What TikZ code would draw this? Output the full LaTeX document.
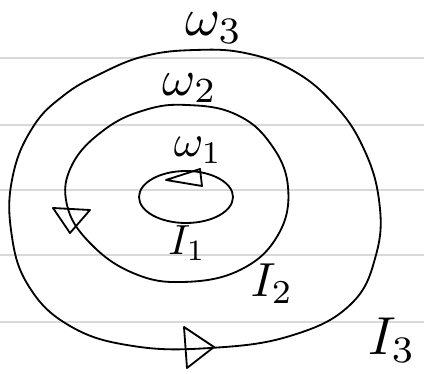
\documentclass[tikz,border=0pt]{standalone}
\usepackage{tikz}

\begin{document}
\begin{tikzpicture}[
    x=0.025cm, y=-0.025cm,
    rule/.style={draw=gray!30, line width=0.8pt},
    curve/.style={draw, line width=1.3pt, smooth cycle, tension=0.7},
    tip/.style={draw, line width=1.3pt, line join=round},
    lbl/.style={inner sep=0pt},
]
    \useasboundingbox (0,0) rectangle (424,374);
    % ruled paper
    \foreach \y in {58,125,190,255,322}
        \draw[rule] (0,\y) -- (424,\y);

    % outer curve
    \draw[curve] plot coordinates {(195,50) (245,53) (292,70) (332,102) (362,145) (379,200)
        (376,255) (350,305) (290,336) (210,348) (133,346) (70,326) (28,285) (11,230)
        (13,175) (33,127) (63,96) (100,74) (145,56)};
    % middle curve
    \draw[curve] plot coordinates {(187,105) (235,114) (270,143) (288,187) (278,235) (240,270)
        (183,282) (133,273) (90,243) (67,205) (72,165) (104,130) (145,110)};
    % inner ellipse
    \draw[line width=1.3pt] (186,197) ellipse (47 and 26);

    % direction marks
    \draw[tip] (166,180) -- (200,169) -- (202,186) -- cycle;
    \draw[tip] (53,208) -- (90,210) -- (70,233) -- cycle;
    \draw[tip] (184,327) -- (214,347) -- (187,368) -- cycle;

    % labels
    \node[lbl, scale=3.8] (w3) at (214,28) {$\omega_3$};
    \node[lbl, scale=3.6] (w2) at (190,88) {$\omega_2$};
    \node[lbl, scale=3.2] (w1) at (198,150) {$\omega_1$};
    \node[lbl, scale=3.0] (i1) at (187,243) {$I_1$};
    \node[lbl, scale=3.4] (i2) at (272,284) {$I_2$};
    \node[lbl, scale=3.8] (i3) at (392,340) {$I_3$};
\end{tikzpicture}
\end{document}
